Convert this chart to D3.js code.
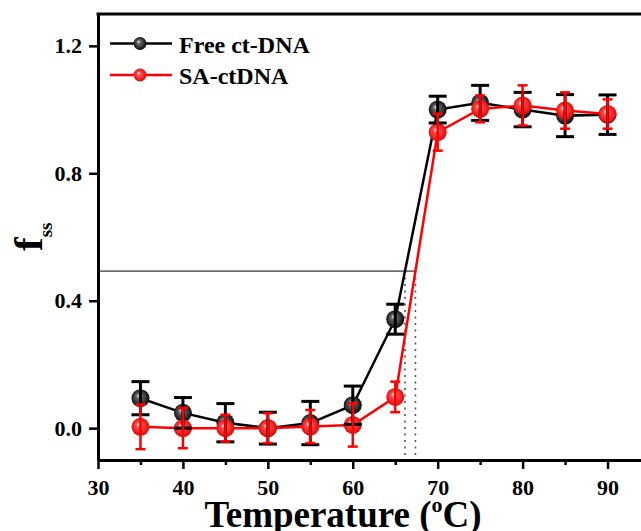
<!DOCTYPE html>
<html>
<head>
<meta charset="utf-8">
<script src="https://cdn.jsdelivr.net/npm/d3@7"></script>
<style>
  html, body { margin: 0; padding: 0; background: #fff; overflow: hidden; }
  svg { display: block; }
  text { font-family: "Liberation Serif", "Times New Roman", serif; font-weight: bold; fill: #000; }
</style>
</head>
<body>
<svg id="chart" width="641" height="531"></svg>
<script>
// ---- data ----
const temps     = [35, 40, 45, 50, 55, 60, 65, 70, 75, 80, 85, 90];
const freeVals  = [0.094, 0.048, 0.017, 0.000, 0.016, 0.072, 0.342, 1.000, 1.021, 1.000, 0.981, 0.984];
const freeErr   = [0.052, 0.048, 0.060, 0.050, 0.068, 0.060, 0.047, 0.042, 0.055, 0.054, 0.066, 0.062];
const saVals    = [0.004, 0.000, 0.000, 0.000, 0.005, 0.010, 0.098, 0.929, 1.002, 1.013, 0.997, 0.986];
const saErr     = [0.070, 0.063, 0.042, 0.047, 0.052, 0.068, 0.048, 0.058, 0.042, 0.063, 0.057, 0.046];
const seriesNames = ["Free ct-DNA", "SA-ctDNA"];
const xTicks = [30, 40, 50, 60, 70, 80, 90];
const xMinorTicks = [35, 45, 55, 65, 75, 85];
const yTicks = [0.0, 0.4, 0.8, 1.2];
const halfLevel = 0.493;          // f_ss level of the guide line
const meltTemps = [66.15, 67.38]; // Tm of Free ct-DNA, SA-ctDNA

(function () {
// ---- layout ----
const svg = d3.select("#chart");
const pLeft = 98, pRight = 650, pTop = 14, pBottom = 460;
const x = d3.scaleLinear().domain([30, 95]).range([pLeft, pRight]);
const y = d3.scaleLinear().domain([-0.1, 1.3]).range([pBottom, pTop]);

// gradients for the shaded spheres
const defs = svg.append("defs");
function sphere(id, light, mid, dark) {
  const g = defs.append("radialGradient").attr("id", id)
    .attr("cx", "50%").attr("cy", "50%").attr("r", "55%")
    .attr("fx", "38%").attr("fy", "35%");
  g.append("stop").attr("offset", "0%").attr("stop-color", light);
  g.append("stop").attr("offset", "25%").attr("stop-color", mid);
  g.append("stop").attr("offset", "100%").attr("stop-color", dark);
}
sphere("gBlack", "#e8e8e8", "#6a6a6a", "#000000");
sphere("gRed", "#ffffff", "#ff5050", "#e00000");

const series = [
  { name: seriesNames[0], vals: freeVals, err: freeErr, color: "#000000", fill: "url(#gBlack)", cap: 9, ew: 3 },
  { name: seriesNames[1], vals: saVals,   err: saErr,   color: "#ff0000", fill: "url(#gRed)",   cap: 5, ew: 2.5 }
];

// ---- guide lines (half-melting level and Tm) ----
svg.append("line")
  .attr("x1", x(30)).attr("x2", x(d3.max(meltTemps)))
  .attr("y1", y(halfLevel)).attr("y2", y(halfLevel))
  .attr("stroke", "#000").attr("stroke-width", 1);
svg.selectAll("line.tm").data(meltTemps).enter().append("line")
  .attr("class", "tm")
  .attr("x1", d => x(d)).attr("x2", d => x(d))
  .attr("y1", y(halfLevel)).attr("y2", pBottom)
  .attr("stroke", "#555").attr("stroke-width", 1.6)
  .attr("stroke-dasharray", "2,4.5");

// ---- connecting lines ----
const line = d3.line().x((d, i) => x(temps[i])).y(d => y(d));
series.forEach(s => {
  svg.append("path").attr("d", line(s.vals))
    .attr("fill", "none").attr("stroke", s.color).attr("stroke-width", 2.5);
});

// ---- markers ----
series.forEach(s => {
  svg.append("g").selectAll("circle").data(s.vals).enter().append("circle")
    .attr("cx", (d, i) => x(temps[i])).attr("cy", d => y(d))
    .attr("r", 9).attr("fill", s.fill);
});

// ---- error bars ----
series.forEach(s => {
  const g = svg.append("g").attr("stroke", s.color).attr("stroke-width", s.ew);
  s.vals.forEach((v, i) => {
    const cx = x(temps[i]), y1 = y(v + s.err[i]), y2 = y(v - s.err[i]);
    g.append("line").attr("x1", cx).attr("x2", cx).attr("y1", y1).attr("y2", y2);
    g.append("line").attr("x1", cx - s.cap).attr("x2", cx + s.cap).attr("y1", y1).attr("y2", y1);
    g.append("line").attr("x1", cx - s.cap).attr("x2", cx + s.cap).attr("y1", y2).attr("y2", y2);
  });
});

// ---- axes ----
const xAxis = svg.append("g").attr("transform", `translate(0,${pBottom})`)
  .call(d3.axisBottom(x).tickValues(xTicks).tickFormat(d3.format("d")).tickSize(9).tickPadding(10).tickSizeOuter(0));
const xMinor = svg.append("g").attr("transform", `translate(0,${pBottom})`)
  .call(d3.axisBottom(x).tickValues(xMinorTicks).tickFormat("").tickSize(5).tickSizeOuter(0));
const yAxis = svg.append("g").attr("transform", `translate(${pLeft},0)`)
  .call(d3.axisLeft(y).tickValues(yTicks).tickFormat(d3.format(".1f")).tickSize(9).tickPadding(7).tickSizeOuter(0));
[xAxis, xMinor, yAxis].forEach(g => {
  g.select(".domain").attr("stroke", "#000").attr("stroke-width", 3);
  g.selectAll(".tick line").attr("stroke", "#000").attr("stroke-width", 2.5);
  g.selectAll(".tick text").style("font-size", "22px").style("font-family", "'Liberation Serif', serif").style("font-weight", "bold");
});
// top frame line
svg.append("line").attr("x1", pLeft - 1.5).attr("x2", pRight).attr("y1", pTop).attr("y2", pTop)
  .attr("stroke", "#000").attr("stroke-width", 3);

// ---- axis titles ----
const xt = svg.append("text").attr("x", 343).attr("y", 527).attr("text-anchor", "middle")
  .style("font-size", "37px");
xt.append("tspan").text("Temperature (");
xt.append("tspan").attr("dy", -15).style("font-size", "22px").text("o");
xt.append("tspan").attr("dy", 15).text("C)");

const yt = svg.append("text").attr("transform", "translate(42,251) rotate(-90)")
  .attr("text-anchor", "start").style("font-size", "41px");
yt.append("tspan").text("f");
yt.append("tspan").attr("dy", 10).style("font-size", "19px").text("ss");

// ---- legend ----
const legY = [43.5, 75];
series.forEach((s, i) => {
  const g = svg.append("g");
  g.append("line").attr("x1", 110).attr("x2", 172).attr("y1", legY[i]).attr("y2", legY[i])
    .attr("stroke", s.color).attr("stroke-width", 2.5);
  g.append("circle").attr("cx", 140).attr("cy", legY[i]).attr("r", 6.5).attr("fill", s.fill);
  g.append("text").attr("x", 179).attr("y", legY[i] + 9).style("font-size", "24px").text(s.name);
});
})();
</script>
</body>
</html>
